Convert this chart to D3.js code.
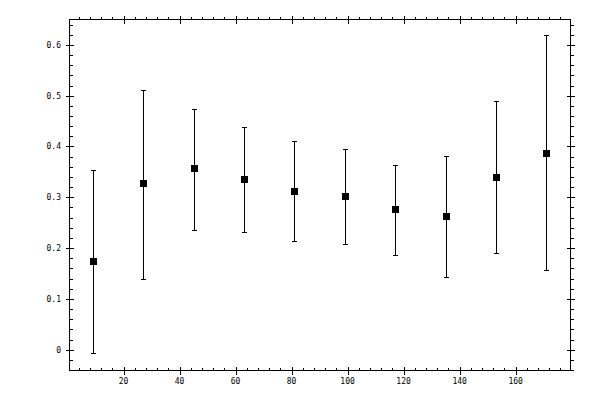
<!DOCTYPE html>
<html>
<head>
<meta charset="utf-8">
<script src="https://cdn.jsdelivr.net/npm/d3@7"></script>
<style>
  body { margin: 0; background: #fff; }
  svg text { font-family: "DejaVu Sans Mono", monospace; font-size: 8px; fill: #000; }
</style>
</head>
<body>
<script>
const xs = [9, 27, 45, 63, 81, 99, 117, 135, 153, 171];
const means = [0.174, 0.328, 0.358, 0.336, 0.312, 0.302, 0.277, 0.263, 0.340, 0.387];
const upper = [0.353, 0.512, 0.474, 0.439, 0.411, 0.395, 0.364, 0.382, 0.489, 0.619];
const lower = [-0.007, 0.140, 0.236, 0.231, 0.213, 0.209, 0.187, 0.144, 0.191, 0.156];
const xTickLabels = [20, 40, 60, 80, 100, 120, 140, 160];
const yTickLabels = [0, 0.1, 0.2, 0.3, 0.4, 0.5, 0.6];

(function draw() {
  const width = 600;
  const height = 400;
  const left = 69.5, right = 570.5, top = 19.5, bottom = 370.5;

  const x = d3.scaleLinear().domain([0.7, 179.6]).range([left, right]);
  const y = d3.scaleLinear().domain([-0.041, 0.65]).range([bottom, top]);

  const svg = d3.select('body')
    .append('svg')
    .attr('width', width)
    .attr('height', height);

  const axes = svg.append('g')
    .attr('stroke', '#000')
    .attr('stroke-width', 1)
    .attr('shape-rendering', 'crispEdges');

  axes.append('rect')
    .attr('x', left)
    .attr('y', top)
    .attr('width', right - left)
    .attr('height', bottom - top)
    .attr('fill', 'none');

  const xMinor = d3.range(4, 180, 4).filter(v => v % 20 !== 0);
  const yMinor = d3.range(-0.04, 0.65, 0.02).map(v => +v.toFixed(2))
    .filter(v => Math.abs(Math.round(v * 10) - v * 10) > 1e-6);

  // minor ticks: all point up / right
  xMinor.forEach(v => {
    const px = Math.round(x(v)) + 0.5;
    axes.append('line').attr('x1', px).attr('x2', px).attr('y1', bottom).attr('y2', bottom - 3);
    axes.append('line').attr('x1', px).attr('x2', px).attr('y1', top).attr('y2', top - 3);
  });
  yMinor.forEach(v => {
    const py = Math.round(y(v)) + 0.5;
    axes.append('line').attr('x1', left).attr('x2', left + 3).attr('y1', py).attr('y2', py);
    axes.append('line').attr('x1', right).attr('x2', right + 3).attr('y1', py).attr('y2', py);
  });

  // major ticks cross the frame
  xTickLabels.forEach(v => {
    const px = Math.round(x(v)) + 0.5;
    axes.append('line').attr('x1', px).attr('x2', px).attr('y1', bottom - 4).attr('y2', bottom + 4);
    axes.append('line').attr('x1', px).attr('x2', px).attr('y1', top - 4).attr('y2', top + 4);
  });
  yTickLabels.forEach(v => {
    const py = Math.round(y(v)) + 0.5;
    axes.append('line').attr('x1', left - 4).attr('x2', left + 4).attr('y1', py).attr('y2', py);
    axes.append('line').attr('x1', right - 4).attr('x2', right + 4).attr('y1', py).attr('y2', py);
  });

  svg.append('g').selectAll('text')
    .data(xTickLabels)
    .enter()
    .append('text')
    .attr('x', d => x(d))
    .attr('y', 384)
    .attr('text-anchor', 'middle')
    .text(d => d);

  svg.append('g').selectAll('text')
    .data(yTickLabels)
    .enter()
    .append('text')
    .attr('x', 61)
    .attr('y', d => y(d) + 3)
    .attr('text-anchor', 'end')
    .text(d => d === 0 ? '0' : d3.format('.1f')(d));

  const pts = xs.map((v, i) => ({ x: v, m: means[i], hi: upper[i], lo: lower[i] }));
  const bars = svg.append('g')
    .attr('stroke', '#000')
    .attr('shape-rendering', 'crispEdges');

  bars.selectAll('line.stem')
    .data(pts)
    .enter()
    .append('line')
    .attr('class', 'stem')
    .attr('x1', d => Math.round(x(d.x)) + 0.5)
    .attr('x2', d => Math.round(x(d.x)) + 0.5)
    .attr('y1', d => y(d.hi))
    .attr('y2', d => y(d.lo));

  ['hi', 'lo'].forEach(k => {
    bars.selectAll('line.cap-' + k)
      .data(pts)
      .enter()
      .append('line')
      .attr('class', 'cap-' + k)
      .attr('x1', d => Math.round(x(d.x)) - 2)
      .attr('x2', d => Math.round(x(d.x)) + 3)
      .attr('y1', d => Math.round(y(d[k])) + 0.5)
      .attr('y2', d => Math.round(y(d[k])) + 0.5);
  });

  svg.append('g').selectAll('rect')
    .data(pts)
    .enter()
    .append('rect')
    .attr('x', d => Math.round(x(d.x)) - 3)
    .attr('y', d => Math.round(y(d.m)) - 3)
    .attr('width', 7)
    .attr('height', 7)
    .attr('fill', '#000')
    .attr('shape-rendering', 'crispEdges');
}());
</script>
</body>
</html>
